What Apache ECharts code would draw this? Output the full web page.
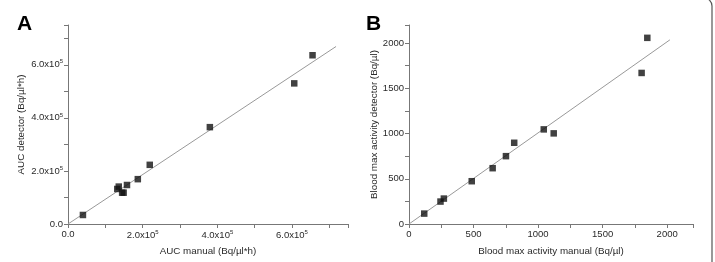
<!DOCTYPE html>
<html>
<head>
<meta charset="utf-8">
<script src="https://cdn.jsdelivr.net/npm/echarts@6/dist/echarts.min.js"></script>
<style>
  html, body { margin: 0; padding: 0; background: #fff; }
  #chart { width: 715px; height: 262px; }
</style>
</head>
<body>
<div id="chart"></div>
<script>
// Panel A : AUC (Bq/µl*h)
const aucManual   = [0.40e5, 1.32e5, 1.36e5, 1.45e5, 1.49e5, 1.58e5, 1.87e5, 2.19e5, 3.80e5, 6.06e5, 6.55e5];
const aucDetector = [0.34e5, 1.32e5, 1.41e5, 1.18e5, 1.18e5, 1.47e5, 1.69e5, 2.23e5, 3.65e5, 5.30e5, 6.36e5];
const aucFit      = [[0, 0], [7.18e5, 6.69e5]];

// Panel B : blood max activity (Bq/µl)
const bloodManual   = [118, 244, 270, 486, 648, 751, 815, 1044, 1121, 1802, 1846];
const bloodDetector = [115, 248, 281, 473, 617, 750, 898, 1046, 1002, 1670, 2058];
const bloodFit      = [[0, 0], [2021, 2036]];

// mantisse / exposant des étiquettes du panneau A
const aucTickLabels = { 0: ['0.0', ''], 200000: ['2.0x10', '5'], 400000: ['4.0x10', '5'], 600000: ['6.0x10', '5'] };

const font = 'Liberation Sans, Arial, sans-serif';
const axisGray = '#777';
const textColor = '#2a2a2a';

function pairs(xs, ys) {
    return xs.map((x, i) => [x, ys[i]]);
}

const labelRich = {
    b: { fontFamily: font, fontSize: 9.5, color: textColor },
    s: { fontFamily: font, fontSize: 6, color: textColor, padding: [0, 0, 6, 0] }
};

function axisBase(extra) {
    return Object.assign({
        type: 'value',
        nameLocation: 'middle',
        nameTextStyle: { fontFamily: font, fontSize: 9.8, color: textColor },
        axisLine: { show: true, lineStyle: { color: axisGray, width: 1 } },
        axisTick: { show: true, inside: false, length: 4, lineStyle: { color: axisGray } },
        splitLine: { show: false }
    }, extra);
}

function aucLabel(v) {
    const t = aucTickLabels[v];
    if (!t) return '';
    return t[1] ? '{b|' + t[0] + '}{s|' + t[1] + '}' : '{b|' + t[0] + '}';
}

function bloodLabel(v) {
    return v % 500 === 0 ? String(v) : '';
}

const chart = echarts.init(document.getElementById('chart'));

chart.setOption({
    animation: false,
    grid: [
        { left: 68, right: 367, top: 25, bottom: 38 },
        { left: 409, right: 22, top: 25, bottom: 38 }
    ],
    xAxis: [
        axisBase({ gridIndex: 0, min: 0, max: 750000, interval: 100000, name: 'AUC manual (Bq/\u00b5l*h)', nameGap: 22,
            axisLabel: { margin: 5, formatter: aucLabel, rich: labelRich } }),
        axisBase({ gridIndex: 1, min: 0, max: 2200, interval: 250, name: 'Blood max activity manual (Bq/\u00b5l)', nameGap: 22,
            axisLabel: { fontFamily: font, fontSize: 9.5, color: textColor, margin: 5, formatter: bloodLabel } })
    ],
    yAxis: [
        axisBase({ gridIndex: 0, min: 0, max: 750000, interval: 100000, name: 'AUC detector (Bq/\u00b5l*h)', nameGap: 42,
            axisLabel: { margin: 5, formatter: aucLabel, rich: labelRich } }),
        axisBase({ gridIndex: 1, min: 0, max: 2200, interval: 250, name: 'Blood max activity detector (Bq/\u00b5l)', nameGap: 30,
            axisLabel: { fontFamily: font, fontSize: 9.5, color: textColor, margin: 5, formatter: bloodLabel } })
    ],
    series: [
        { type: 'line', xAxisIndex: 0, yAxisIndex: 0, data: aucFit, symbol: 'none',
          lineStyle: { color: '#999', width: 1 }, z: 1 },
        { type: 'scatter', xAxisIndex: 0, yAxisIndex: 0, data: pairs(aucManual, aucDetector),
          symbol: 'rect', symbolSize: 6.5, itemStyle: { color: '#111' }, z: 2 },
        { type: 'line', xAxisIndex: 1, yAxisIndex: 1, data: bloodFit, symbol: 'none',
          lineStyle: { color: '#999', width: 1 }, z: 1 },
        { type: 'scatter', xAxisIndex: 1, yAxisIndex: 1, data: pairs(bloodManual, bloodDetector),
          symbol: 'rect', symbolSize: 6.5, itemStyle: { color: '#111' }, z: 2 }
    ],
    graphic: [
        { type: 'text', left: 17, top: 14, style: { text: 'A', font: 'bold 21px ' + font, fill: '#000' } },
        { type: 'text', left: 366, top: 14, style: { text: 'B', font: 'bold 21px ' + font, fill: '#000' } },
        { type: 'rect', shape: { x: -20, y: -2, width: 732, height: 500, r: 8 }, silent: true,
          style: { fill: 'none', stroke: '#555', lineWidth: 1.2 } }
    ]
});
</script>
</body>
</html>
